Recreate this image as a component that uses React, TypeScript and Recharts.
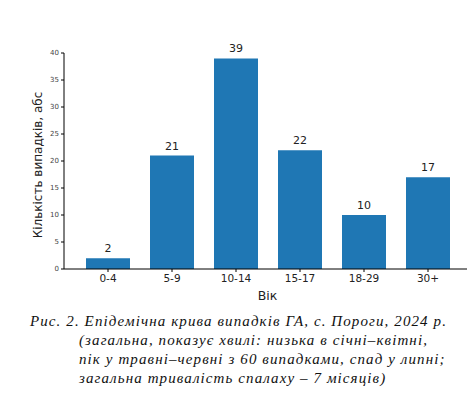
import React from "react";
import { BarChart, Bar, XAxis, YAxis, LabelList } from "recharts";

const ageGroups = ["0-4", "5-9", "10-14", "15-17", "18-29", "30+"];
const caseCounts = [2, 21, 39, 22, 10, 17];
const yTicks = [0, 5, 10, 15, 20, 25, 30, 35, 40];

const captionLines = [
  "Рис. 2. Епідемічна крива випадків ГА, с. Пороги, 2024 р.",
  "(загальна, показує хвилі: низька в січні–квітні,",
  "пік у травні–червні з 60 випадками, спад у липні;",
  "загальна тривалість спалаху – 7 місяців)",
];

const data = ageGroups.map((g, i) => ({ group: g, cases: caseCounts[i] }));

const sans = "'DejaVu Sans', Verdana, sans-serif";

const YTitle = (props: any) => {
  const vb = props.viewBox || { x: 0, y: 0, width: 0, height: 0 };
  const cx = vb.x + 30;
  const cy = vb.y + vb.height / 2 + 4;
  return (
    <text
      x={cx}
      y={cy}
      transform={`rotate(-90 ${cx} ${cy})`}
      textAnchor="middle"
      dominantBaseline="central"
      style={{ fontSize: 12, fill: "#222", fontFamily: sans }}
    >
      Кількість випадків, абс
    </text>
  );
};

export default function App() {
  return (
    <div style={{ width: 467 }}>
      <BarChart
        width={467}
        height={300}
        data={data}
        margin={{ top: 45, right: 4, bottom: 0, left: 0 }}
        barCategoryGap={10}
      >
        <XAxis
          dataKey="group"
          height={39}
          padding={{ left: 12, right: 11 }}
          tickSize={3}
          tickMargin={3}
          tickLine={{ stroke: "#000" }}
          axisLine={{ stroke: "#000" }}
          tick={{ fontSize: 10.5, fill: "#222", fontFamily: sans }}
          label={{
            value: "Вік",
            position: "insideBottom",
            offset: 8,
            style: { fontSize: 12.5, fill: "#222", fontFamily: sans },
          }}
        />
        <YAxis
          width={56}
          domain={[0, 40]}
          ticks={yTicks}
          tickSize={3}
          tickMargin={2}
          tickLine={{ stroke: "#000" }}
          axisLine={{ stroke: "#000" }}
          tick={{ fontSize: 7, fill: "#444", fontFamily: sans }}
          label={{ content: YTitle }}
        />
        <Bar dataKey="cases" fill="#1f77b4" isAnimationActive={false}>
          <LabelList
            dataKey="cases"
            position="top"
            offset={6}
            style={{ fontSize: 11, fill: "#222", fontFamily: sans }}
          />
        </Bar>
      </BarChart>
      <div
        style={{
          fontFamily: "'Liberation Serif', 'Times New Roman', serif",
          fontStyle: "italic",
          fontSize: 15,
          letterSpacing: 1.1,
          lineHeight: "19px",
          color: "#111",
          marginTop: 4,
        }}
      >
        {captionLines.map((line, i) => (
          <div key={i} style={{ paddingLeft: i === 0 ? 22 : 71, whiteSpace: "nowrap" }}>
            {line}
          </div>
        ))}
      </div>
    </div>
  );
}
